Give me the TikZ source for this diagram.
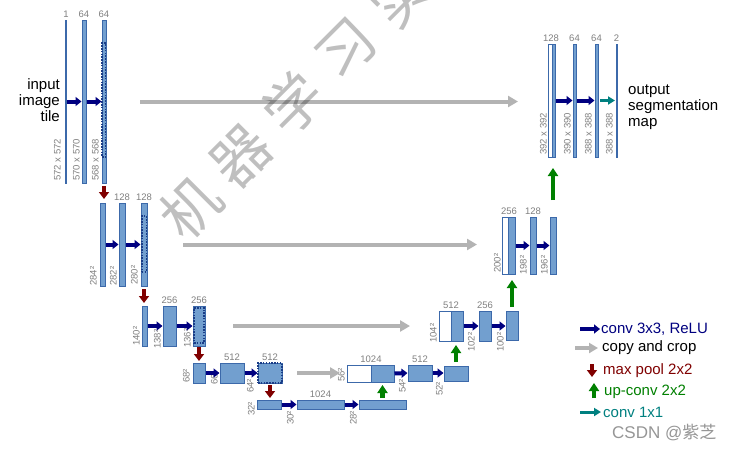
\documentclass[tikz,border=0pt]{standalone}
\usepackage{fontspec}
\setmainfont{Liberation Sans}
\newfontfamily\cjk{Noto Sans CJK SC}
\usetikzlibrary{arrows.meta,calc}
\definecolor{barfill}{RGB}{114,159,207}
\definecolor{barline}{RGB}{60,105,170}
\definecolor{cropc}{RGB}{25,60,135}
\definecolor{convc}{RGB}{0,0,128}
\definecolor{copyc}{RGB}{179,179,179}
\definecolor{poolc}{RGB}{128,0,0}
\definecolor{upcc}{RGB}{0,128,0}
\definecolor{tealc}{RGB}{0,128,128}
\definecolor{labgray}{RGB}{128,128,128}
\definecolor{csdngray}{RGB}{150,150,150}
\begin{document}
\begin{tikzpicture}[x=1pt,y=1pt,
  bar/.style={draw=barline, fill=barfill, line width=0.7pt, inner sep=0pt, outer sep=0pt, anchor=north west},
  wbar/.style={bar, fill=white},
  cropbox/.style={draw=cropc, line width=1.5pt, dash pattern=on 1.5pt off 1.3pt, inner sep=0pt, outer sep=0pt, anchor=north west},
  chl/.style={text=labgray, font=\fontsize{9.5}{10}\selectfont, inner sep=1pt},
  szl/.style={text=labgray, font=\fontsize{9.5}{10}\selectfont, inner sep=0pt, rotate=90, anchor=south west},
  conv/.style={draw=convc, line width=4pt, -{Triangle[length=6pt,width=9pt]}, shorten <=0.5pt, shorten >=0.5pt},
  copyarr/.style={draw=copyc, line width=4pt, -{Triangle[length=10pt,width=11pt]}},
  pool/.style={draw=poolc, line width=4.5pt, -{Triangle[length=7pt,width=10pt]}},
  upconv/.style={draw=upcc, line width=4.5pt, -{Triangle[length=8pt,width=10pt]}},
  convone/.style={draw=tealc, line width=3pt, -{Triangle[length=7pt,width=8pt]}},
  bigtxt/.style={font=\fontsize{15}{16}\selectfont, inner sep=0pt},
  legtxt/.style={font=\fontsize{15}{16}\selectfont, inner sep=0pt, anchor=west},
  wm/.style={font=\cjk\fontsize{58}{58}\selectfont, text=black, text opacity=0.25, rotate=45, inner sep=0pt}
]
\path[fill=white] (0,0) rectangle (740,-451);
\useasboundingbox (0,0) rectangle (740,-451);

% ---------- level 1 ----------
\node[bar, line width=0.5pt, minimum width=1.2pt, minimum height=163pt, label={[chl, label distance=1pt]above:1}] (i1) at (65.5,-20) {};
\node[bar, minimum width=4pt, minimum height=163pt, label={[chl, label distance=1pt]above:64}] (c11) at (82,-20) {};
\node[bar, minimum width=4pt, minimum height=163pt, label={[chl, label distance=1pt]above:64}] (c12) at (102,-20) {};
\node[cropbox, minimum width=3.5pt, minimum height=114pt] (cr1) at (102.2,-43) {};

% ---------- level 2 ----------
\node[bar, minimum width=5pt, minimum height=83pt] (p2) at (100,-203) {};
\node[bar, minimum width=6pt, minimum height=83pt, label={[chl, label distance=1pt]above:128}] (c21) at (119,-203) {};
\node[bar, minimum width=6pt, minimum height=83pt, label={[chl, label distance=1pt]above:128}] (c22) at (141,-203) {};
\node[cropbox, minimum width=4.5pt, minimum height=56pt] (cr2) at (141.8,-216) {};

% ---------- level 3 ----------
\node[bar, minimum width=5pt, minimum height=40pt] (p3) at (142,-306) {};
\node[bar, minimum width=13pt, minimum height=40pt, label={[chl, label distance=1pt]above:256}] (c31) at (163,-306) {};
\node[bar, minimum width=12pt, minimum height=40pt, label={[chl, label distance=1pt]above:256}] (c32) at (193,-306) {};
\node[cropbox, minimum width=10pt, minimum height=35pt] (cr3) at (194,-308) {};

% ---------- level 4 ----------
\node[bar, minimum width=12pt, minimum height=20pt] (p4) at (193,-363) {};
\node[bar, minimum width=24pt, minimum height=20pt, label={[chl, label distance=1pt]above:512}] (c41) at (220,-363) {};
\node[bar, minimum width=24pt, minimum height=20pt, label={[chl, label distance=1pt]above:512}] (c42) at (258,-363) {};
\node[cropbox, minimum width=24pt, minimum height=20pt] (cr4) at (258,-363) {};

% ---------- level 5 ----------
\node[bar, minimum width=24pt, minimum height=9pt] (p5) at (257,-400) {};
\node[bar, minimum width=47pt, minimum height=9pt, label={[chl, label distance=1pt]above:1024}] (c51) at (297,-400) {};
\node[bar, minimum width=47pt, minimum height=9pt] (c52) at (359,-400) {};

% ---------- up level 4 ----------
\node[wbar, minimum width=24pt, minimum height=17pt] (w4) at (347,-365) {};
\node[bar, minimum width=23pt, minimum height=17pt] (u4) at (371,-365) {};
\node[chl, anchor=south] (l4) at (371,-364) {1024};
\node[bar, minimum width=24pt, minimum height=16pt, label={[chl, label distance=1pt]above:512}] (c61) at (408,-365) {};
\node[bar, minimum width=24pt, minimum height=15pt] (c62) at (444,-366) {};

% ---------- up level 3 ----------
\node[wbar, minimum width=12pt, minimum height=30pt] (w3) at (439,-311) {};
\node[bar, minimum width=12pt, minimum height=30pt] (u3) at (451,-311) {};
\node[chl, anchor=south] (l3) at (451,-310) {512};
\node[bar, minimum width=12pt, minimum height=30pt, label={[chl, label distance=1pt]above:256}] (c71) at (479,-311) {};
\node[bar, minimum width=12pt, minimum height=29pt] (c72) at (506,-311) {};

% ---------- up level 2 ----------
\node[wbar, minimum width=6pt, minimum height=57pt] (w2) at (502,-217) {};
\node[bar, minimum width=7pt, minimum height=57pt] (u2) at (508,-217) {};
\node[chl, anchor=south] (l2) at (509,-216) {256};
\node[bar, minimum width=6pt, minimum height=57pt, label={[chl, label distance=1pt]above:128}] (c81) at (530,-217) {};
\node[bar, minimum width=6pt, minimum height=57pt] (c82) at (550,-217) {};

% ---------- up level 1 ----------
\node[wbar, minimum width=4pt, minimum height=113pt] (w1) at (548,-44) {};
\node[bar, minimum width=3pt, minimum height=113pt] (u1) at (552,-44) {};
\node[chl, anchor=south] (l1) at (551,-43) {128};
\node[bar, minimum width=3pt, minimum height=113pt, label={[chl, label distance=1pt]above:64}] (c91) at (573,-44) {};
\node[bar, minimum width=3pt, minimum height=113pt, label={[chl, label distance=1pt]above:64}] (c92) at (595,-44) {};
\node[bar, line width=0.5pt, minimum width=1.2pt, minimum height=113pt, label={[chl, label distance=1pt]above:2}] (out) at (616,-44) {};

% ---------- size labels ----------
\node[szl] (s1) at (61,-181) {572 x 572};
\node[szl] (s2) at (80,-181) {570 x 570};
\node[szl] (s3) at (99,-181) {568 x 568};
\node[szl] (s4) at (97,-286) {284²};
\node[szl] (s5) at (117,-286) {282²};
\node[szl] (s6) at (138,-285) {280²};
\node[szl] (s7) at (140,-346) {140²};
\node[szl] (s8) at (161,-349) {138²};
\node[szl] (s9) at (191,-348) {136²};
\node[szl] (s10) at (190,-383) {68²};
\node[szl] (s11) at (218,-385) {66²};
\node[szl] (s12) at (254,-393) {64²};
\node[szl] (s13) at (255,-416) {32²};
\node[szl] (s14) at (294,-425) {30²};
\node[szl] (s15) at (357,-425) {28²};
\node[szl] (s16) at (345,-382) {56²};
\node[szl] (s17) at (406,-393) {54²};
\node[szl] (s18) at (443,-396) {52²};
\node[szl] (s19) at (437,-343) {104²};
\node[szl] (s20) at (475,-352) {102²};
\node[szl] (s21) at (504,-352) {100²};
\node[szl] (s22) at (501,-273) {200²};
\node[szl] (s23) at (527,-275) {198²};
\node[szl] (s24) at (548,-275) {196²};
\node[szl] (s25) at (547,-155) {392 x 392};
\node[szl] (s26) at (571,-155) {390 x 390};
\node[szl] (s27) at (592,-155) {388 x 388};
\node[szl] (s28) at (613,-155) {388 x 388};

% ---------- conv arrows ----------
\draw[conv] (i1.east) -- (c11.west);
\draw[conv] (c11.east) -- (c12.west);
\draw[conv] (p2.east) -- (c21.west);
\draw[conv] (c21.east) -- (c22.west);
\draw[conv] (p3.east) -- (c31.west);
\draw[conv] (c31.east) -- (c32.west);
\draw[conv] (p4.east) -- (c41.west);
\draw[conv] (c41.east) -- (c42.west);
\draw[conv] (p5.east) -- (c51.west);
\draw[conv] (c51.east) -- (c52.west);
\draw[conv] (u4.east) -- (c61.west);
\draw[conv] (c61.east) -- (c62.west |- c61.east);
\draw[conv] (u3.east) -- (c71.west);
\draw[conv] (c71.east) -- (c72.west |- c71.east);
\draw[conv] (u2.east) -- (c81.west);
\draw[conv] (c81.east) -- (c82.west);
\draw[conv] (u1.east) -- (c91.west);
\draw[conv] (c91.east) -- (c92.west);
\draw[convone, shorten <=2pt, shorten >=1pt] (c92.east) -- (out.west);

% ---------- copy and crop ----------
\draw[copyarr, shorten <=34pt, shorten >=30pt] (c12.east) -- (w1.west |- c12.east);
\draw[copyarr, shorten <=36pt, shorten >=25pt] (c22.east) -- (w2.west |- c22.east);
\draw[copyarr, shorten <=28pt, shorten >=29pt] (c32.east) -- (w3.west |- c32.east);
\draw[copyarr, shorten <=15pt, shorten >=7pt] (c42.east) -- (w4.west |- c42.east);

% ---------- max pool ----------
\draw[pool, shorten <=3pt, shorten >=4pt] (c12.south) -- (c12.south |- p2.north);
\draw[pool, shorten <=3pt, shorten >=3pt] (c22.south) -- (c22.south |- p3.north);
\draw[pool, shorten <=1pt, shorten >=2pt] (c32.south) -- (c32.south |- p4.north);
\draw[pool, shorten <=2pt, shorten >=2pt] (c42.south) -- (c42.south |- p5.north);

% ---------- up-conv ----------
\draw[upconv, shorten <=2pt, shorten >=3pt] (c52.north) -- (c52.north |- u4.south);
\draw[upconv, shorten <=4pt, shorten >=4pt] (c62.north) -- (c62.north |- u3.south);
\draw[upconv, shorten <=4pt, shorten >=6pt] (c72.north) -- (c72.north |- u2.south);
\draw[upconv, shorten <=17pt, shorten >=11pt] (c82.north) -- (c82.north |- u1.south);

% ---------- texts ----------
\node[bigtxt, align=right, anchor=east] (intxt) at (60,-100) {input\\image\\tile};
\node[bigtxt, align=left, anchor=west] (outtxt) at (628,-107) {output\\segmentation\\map};

% ---------- legend ----------
\coordinate (la1) at (580,-329); \coordinate (lb1) at (600,-329);
\draw[conv, shorten <=0pt, shorten >=0pt] (la1) -- (lb1);
\node[legtxt, text=convc] (lt1) at (601,-329) {conv 3x3, ReLU};
\coordinate (la2) at (575,-348); \coordinate (lb2) at (598,-348);
\draw[copyarr, -{Triangle[length=9pt,width=10pt]}] (la2) -- (lb2);
\node[legtxt] (lt2) at (602,-348) {copy and crop};
\coordinate (la3) at (592,-364); \coordinate (lb3) at (592,-377);
\draw[pool] (la3) -- (lb3);
\node[legtxt, text=poolc] (lt3) at (603,-371) {max pool 2x2};
\coordinate (la4) at (594,-398); \coordinate (lb4) at (594,-383);
\draw[upconv] (la4) -- (lb4);
\node[legtxt, text=upcc] (lt4) at (604,-392) {up-conv 2x2};
\coordinate (la5) at (580,-412); \coordinate (lb5) at (601,-412);
\draw[convone] (la5) -- (lb5);
\node[legtxt, text=tealc] (lt5) at (603,-412) {conv 1x1};
\node[legtxt, text=csdngray, font=\fontsize{17}{18}\selectfont] (csdn) at (612,-433) {CSDN @{\cjk 紫芝}};

% ---------- watermark ----------
\node[wm] (wm1) at (190,-207) {机};
\node[wm] (wm2) at (241,-156) {器};
\node[wm] (wm3) at (293,-103) {学};
\node[wm] (wm4) at (347,-50) {习};
\node[wm] (wm5) at (400,4) {实};
\end{tikzpicture}
\end{document}
